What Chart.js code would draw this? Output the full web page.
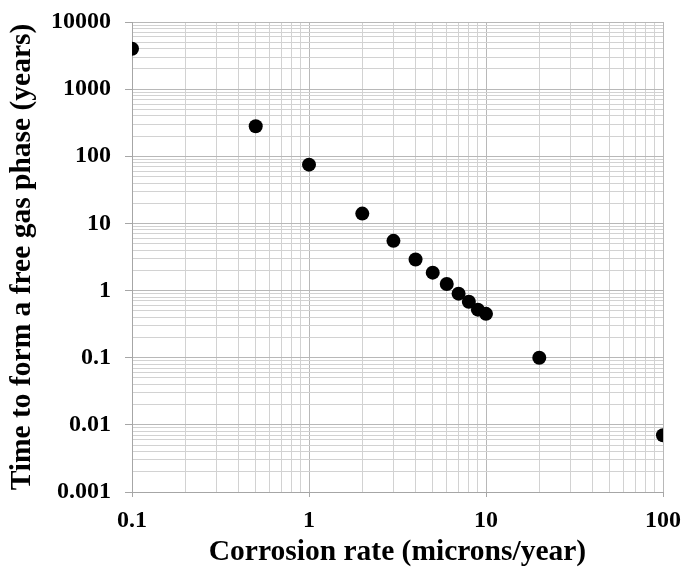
<!DOCTYPE html>
<html>
<head>
<meta charset="utf-8">
<script src="https://cdn.jsdelivr.net/npm/chart.js@4/dist/chart.umd.min.js"></script>
<style>
  html, body { margin: 0; padding: 0; background: #ffffff; }
  #wrap { width: 685px; height: 571px; }
</style>
</head>
<body>
<div id="wrap"><canvas id="c" width="685" height="571"></canvas></div>
<script>
// Corrosion rate (microns/year) and the time needed to form a free gas phase (years)
const corrosionRate = [0.1, 0.5, 1, 2, 3, 4, 5, 6, 7, 8, 9, 10, 20, 100];
const timeToGasPhase = [4000, 280, 75, 14, 5.5, 2.9, 1.85, 1.25, 0.9, 0.68, 0.52, 0.45, 0.1, 0.007];

// Decade labels shown on each axis
const xTickLabels = ['0.1', '1', '10', '100'];
const yTickLabels = ['0.001', '0.01', '0.1', '1', '10', '100', '1000', '10000'];

const xTitle = 'Corrosion rate (microns/year)';
const yTitle = 'Time to form a free gas phase (years)';

// Build log ticks: every decade from the label list, plus 2..9 minor steps in between
function logTicks(labels) {
  const decades = labels.map(Number);
  const ticks = [];
  decades.forEach((d, i) => {
    ticks.push({ value: d, major: true, label: labels[i] });
    if (i < decades.length - 1) {
      for (let m = 2; m <= 9; m++) {
        ticks.push({ value: Number((m * d).toPrecision(6)), major: false, label: '' });
      }
    }
  });
  return ticks;
}

const serif = '"Liberation Serif", "Times New Roman", serif';

function axisOptions(labels, title, isX) {
  const ticks = logTicks(labels);
  return {
    type: 'logarithmic',
    min: Number(labels[0]),
    max: Number(labels[labels.length - 1]),
    afterBuildTicks: (scale) => {
      scale.ticks = ticks.map(t => ({ value: t.value, major: t.major }));
    },
    afterFit: (scale) => {
      // fixed axis band sizes; end labels may hang into the outer margin
      if (isX) {
        scale.height = 79;
        scale.paddingLeft = 0;
        scale.paddingRight = 0;
      } else {
        scale.width = 132;
        scale.paddingTop = 0;
        scale.paddingBottom = 0;
      }
    },
    border: { display: true, color: '#a6a6a6', width: 1 },
    grid: {
      drawOnChartArea: true,
      drawTicks: true,
      tickLength: isX ? 5 : 7,
      color: (ctx) => (ctx.tick && ctx.tick.major) ? '#b8b8b8' : '#d2d2d2',
      tickColor: (ctx) => (ctx.tick && ctx.tick.major) ? '#a6a6a6' : 'rgba(0,0,0,0)',
      lineWidth: 1
    },
    ticks: {
      autoSkip: false,
      maxRotation: 0,
      minRotation: 0,
      padding: isX ? 9 : 14,
      color: '#000000',
      font: { family: serif, size: 24, weight: 'bold' },
      callback: (value) => {
        const t = ticks.find(k => Math.abs(k.value - value) < k.value * 1e-6);
        return t ? t.label : '';
      }
    },
    title: {
      display: true,
      text: title,
      color: '#000000',
      font: { family: serif, size: 29.5, weight: 'bold' },
      padding: isX ? { top: 0, bottom: 1 } : { top: 5, bottom: 0 }
    }
  };
}

new Chart(document.getElementById('c'), {
  type: 'scatter',
  data: {
    datasets: [{
      data: corrosionRate.map((x, i) => ({ x: x, y: timeToGasPhase[i] })),
      backgroundColor: '#000000',
      borderWidth: 0,
      pointRadius: 7,
      pointHoverRadius: 7
    }]
  },
  options: {
    responsive: false,
    animation: false,
    devicePixelRatio: 1,
    layout: { padding: { left: 0, right: 22, top: 22, bottom: 0 } },
    plugins: { legend: { display: false }, tooltip: { enabled: false } },
    scales: {
      x: axisOptions(xTickLabels, xTitle, true),
      y: axisOptions(yTickLabels, yTitle, false)
    }
  }
});
</script>
</body>
</html>
